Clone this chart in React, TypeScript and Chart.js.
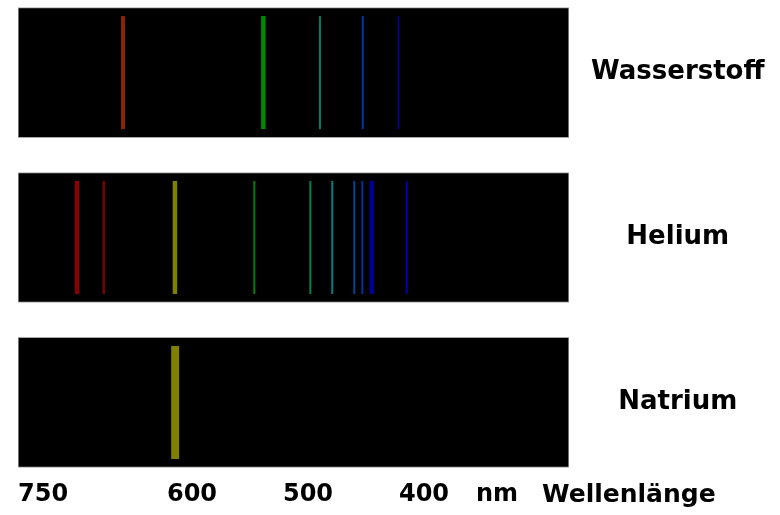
import React, { useEffect, useRef } from 'react';
import { Chart, registerables } from 'chart.js';

Chart.register(...registerables);

// ---- data ----
const elements = ['Wasserstoff', 'Helium', 'Natrium'];
const hydrogenLines = [659.5, 538.5, 489.7, 452.8, 422.0];
const heliumLines = [699.1, 676.1, 614.7, 546.3, 498.0, 479.1, 460.1, 453.2, 445.1, 414.9];
const sodiumLines = [614.5];
const tickValues = [750, 600, 500, 400];
const tickLabels = ['750', '600', '500', '400'];
const unitLabel = 'nm';
const axisLabel = 'Wellenlänge';
const wlMin = 275;
const wlMax = 750;

// ---- styles ----
const hydrogenColors = ['#8b2500', '#008a00', '#00806a', '#003a9e', '#0000aa'];
const hydrogenWidths = [4, 4.5, 2, 2, 1.5];
const heliumColors = ['#8b0000', '#7a0000', '#808000', '#008000', '#008048', '#008080', '#004490', '#003399', '#000092', '#0000b0'];
const heliumWidths = [4.5, 2.5, 4.5, 2, 2, 2, 2, 2, 4.5, 2];
const sodiumColors = ['#808000'];
const sodiumWidths = [8];

const FONT = '"DejaVu Sans", Verdana, sans-serif';

const axisTextPlugin = {
  id: 'axisText',
  afterDraw(chart: any) {
    const { ctx } = chart;
    const x = chart.scales.x;
    const base = x.getPixelForValue(400);
    const y = x.top + 13 + 12;
    ctx.save();
    ctx.fillStyle = '#000';
    ctx.textBaseline = 'middle';
    ctx.textAlign = 'left';
    ctx.font = `bold 24px ${FONT}`;
    ctx.fillText(unitLabel, base + 52, y);
    ctx.font = `bold 25px ${FONT}`;
    ctx.fillText(axisLabel, base + 118, y);
    ctx.restore();
  },
};

function lineDataset(values: number[], row: number, colors: string[], widths: number[]) {
  return {
    type: 'scatter' as const,
    data: values.map((w) => ({ x: w, y: row })),
    pointStyle: 'line',
    pointRotation: 90,
    pointRadius: 56.5,
    pointHoverRadius: 56.5,
    pointBorderColor: colors,
    pointBackgroundColor: colors,
    pointBorderWidth: widths,
    pointHoverBorderWidth: widths,
    order: 1,
  };
}

export default function App() {
  const ref = useRef<HTMLCanvasElement | null>(null);

  useEffect(() => {
    if (!ref.current) return;
    const chart = new Chart(ref.current, {
      type: 'scatter',
      data: {
        datasets: [
          lineDataset(hydrogenLines, 0, hydrogenColors, hydrogenWidths),
          lineDataset(heliumLines, 1, heliumColors, heliumWidths),
          lineDataset(sodiumLines, 2, sodiumColors, sodiumWidths),
          {
            type: 'bar',
            indexAxis: 'y',
            data: elements.map((_, i) => ({ x: [wlMin, wlMax], y: i })),
            backgroundColor: '#000',
            borderColor: '#a8a8a8',
            borderWidth: 1,
            borderSkipped: false,
            barThickness: 130,
            order: 2,
          } as any,
        ],
      },
      options: {
        responsive: false,
        animation: false,
        events: [],
        layout: { autoPadding: false, padding: { left: 18, right: 0, top: 0, bottom: 0 } },
        plugins: { legend: { display: false }, tooltip: { enabled: false } },
        scales: {
          x: {
            type: 'linear',
            reverse: true,
            min: wlMin,
            max: wlMax,
            offset: false,
            grid: { display: false, drawTicks: false },
            border: { display: false },
            afterBuildTicks: (axis: any) => {
              axis.ticks = [wlMin, ...tickValues.slice().sort((a, b) => a - b)].map((v) => ({ value: v }));
            },
            ticks: {
              align: 'inner',
              padding: 13,
              autoSkip: false,
              maxRotation: 0,
              color: '#000',
              font: { family: FONT, weight: 'bold', size: 24, lineHeight: 1 },
              callback: (value: any) => {
                const i = tickValues.indexOf(Number(value));
                return i >= 0 ? tickLabels[i] : '';
              },
            },
            afterFit: (axis: any) => {
              axis.height = 45;
              axis.paddingLeft = 0;
              axis.paddingRight = 0;
            },
          },
          y: {
            type: 'linear',
            reverse: true,
            position: 'right',
            min: -0.44,
            max: 2.41,
            offset: false,
            grid: { display: false, drawTicks: false, offset: false },
            border: { display: false },
            afterBuildTicks: (axis: any) => {
              axis.ticks = elements.map((_, i) => ({ value: i }));
            },
            ticks: {
              crossAlign: 'center',
              padding: 22,
              autoSkip: false,
              color: '#000',
              font: { family: FONT, weight: 'bold', size: 26 },
              callback: (value: any) => elements[Number(value)] ?? '',
            },
            afterFit: (axis: any) => {
              axis.width = 211;
              axis.paddingTop = 0;
              axis.paddingBottom = 0;
            },
          },
        },
      } as any,
      plugins: [axisTextPlugin],
    });
    return () => chart.destroy();
  }, []);

  return (
    <div style={{ position: 'absolute', left: 0, top: 0, width: 780, height: 515, background: '#fff' }}>
      <canvas ref={ref} width={780} height={515} style={{ width: 780, height: 515, display: 'block' }} />
    </div>
  );
}
